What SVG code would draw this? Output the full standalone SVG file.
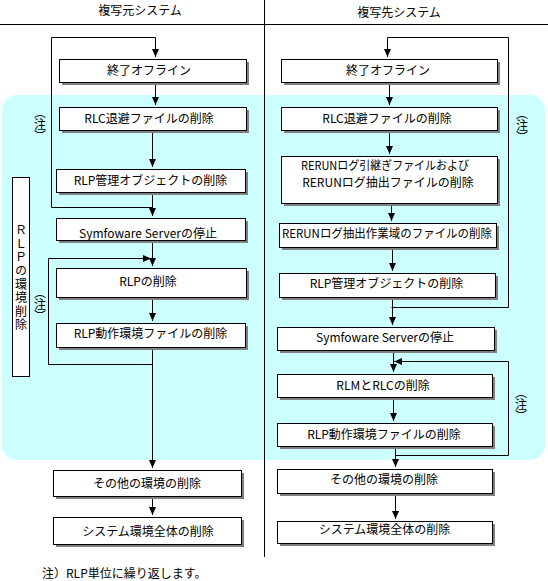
<svg xmlns="http://www.w3.org/2000/svg" width="548" height="581" viewBox="0 0 548 581">
<style>
.bg{fill:#ccffff;stroke:none}
.sh{fill:#808080;stroke:none}
.bx{fill:#ffffff;stroke:#000000;stroke-width:1}
.ln{fill:none;stroke:#000000;stroke-width:1}
.t{font-family:"Noto Sans CJK JP","Noto Sans",sans-serif;font-size:12px;fill:#000000;text-anchor:middle}
.tl{font-family:"Noto Sans CJK JP","Noto Sans",sans-serif;font-size:12px;fill:#000000}
.v{font-family:"Noto Sans CJK JP",sans-serif;font-size:12px;fill:#000000;text-anchor:middle;writing-mode:vertical-rl}
.a{marker-end:url(#ah)}
</style>
<defs>
<marker id="ah" markerUnits="userSpaceOnUse" markerWidth="8" markerHeight="8" viewBox="0 0 8 8" refX="8" refY="4" orient="auto">
<path d="M0,0.5 L8,4 L0,7.5 z" fill="#000000"/>
</marker>
</defs>
<rect width="548" height="581" fill="#ffffff"/>
<rect class="bg" x="2" y="95" width="543" height="365" rx="15" ry="15"/>
<g id="frame">
<line class="ln" x1="264.5" y1="0" x2="264.5" y2="557"/>
<line class="ln" x1="0" y1="24.5" x2="548" y2="24.5"/>
<text class="t" x="140" y="15">複写元システム</text>
<text class="t" x="399" y="17">複写先システム</text>
</g>
<g id="connectors">
<path class="ln a" d="M152.5,207.5 H51.5 V37.5 H155.5 V57"/>
<path class="ln a" d="M155.5,82 V105"/>
<path class="ln a" d="M152.5,130 V167"/>
<path class="ln a" d="M152.5,192 V216"/>
<path class="ln a" d="M152.5,240 V266"/>
<path class="ln a" d="M152.5,364.5 H48.5 V258.5 H151"/>
<path class="ln a" d="M152.5,297 V321"/>
<path class="ln a" d="M152.5,347 V468"/>
<path class="ln a" d="M152.5,496 V515"/>
<path class="ln a" d="M391.5,307.5 H508.5 V37.5 H387.5 V57"/>
<path class="ln a" d="M389.5,82 V105"/>
<path class="ln a" d="M389.5,130 V154"/>
<path class="ln a" d="M391.5,203 V221"/>
<path class="ln a" d="M392.5,247 V271"/>
<path class="ln a" d="M392.5,297 V325"/>
<path class="ln a" d="M393.5,350 V372"/>
<path class="ln a" d="M395.5,455.5 H508.5 V361.5 H394"/>
<path class="ln a" d="M393.5,397 V421"/>
<path class="ln a" d="M395.5,446 V467"/>
<path class="ln a" d="M395.5,493 V519"/>
</g>
<g id="L1"><rect class="sh" x="62" y="62" width="187" height="23"/><rect class="bx" x="59.5" y="59.5" width="187" height="23"/><text class="t" x="149" y="75">終了オフライン</text></g>
<g id="L2"><rect class="sh" x="62" y="110" width="187" height="23"/><rect class="bx" x="59.5" y="107.5" width="187" height="23"/><text class="t" x="149" y="123">RLC退避ファイルの削除</text></g>
<g id="L3"><rect class="sh" x="59" y="172" width="189" height="23"/><rect class="bx" x="56.5" y="169.5" width="189" height="23"/><text class="t" x="150.5" y="185">RLP管理オブジェクトの削除</text></g>
<g id="L4"><rect class="sh" x="59" y="221" width="189" height="22"/><rect class="bx" x="56.5" y="218.5" width="189" height="22"/><text class="t" x="148" y="238">Symfoware Serverの停止</text></g>
<g id="L5"><rect class="sh" x="59" y="271" width="190" height="29"/><rect class="bx" x="56.5" y="268.5" width="190" height="29"/><text class="t" x="148" y="286">RLPの削除</text></g>
<g id="L6"><rect class="sh" x="59" y="326" width="189" height="24"/><rect class="bx" x="56.5" y="323.5" width="189" height="24"/><text class="t" x="150.5" y="338">RLP動作環境ファイルの削除</text></g>
<g id="L7"><rect class="sh" x="56" y="473" width="188" height="26"/><rect class="bx" x="53.5" y="470.5" width="188" height="26"/><text class="t" x="147" y="488">その他の環境の削除</text></g>
<g id="L8"><rect class="sh" x="56" y="520" width="188" height="27"/><rect class="bx" x="53.5" y="517.5" width="188" height="27"/><text class="t" x="148" y="536">システム環境全体の削除</text></g>
<g id="R1"><rect class="sh" x="284" y="62" width="216" height="23"/><rect class="bx" x="281.5" y="59.5" width="216" height="23"/><text class="t" x="388" y="75">終了オフライン</text></g>
<g id="R2"><rect class="sh" x="284" y="110" width="216" height="23"/><rect class="bx" x="281.5" y="107.5" width="216" height="23"/><text class="t" x="387" y="123">RLC退避ファイルの削除</text></g>
<g id="R3"><rect class="sh" x="284" y="159" width="216" height="47"/><rect class="bx" x="281.5" y="156.5" width="216" height="47"/><text class="t"><tspan x="385" y="170" textLength="168" lengthAdjust="spacingAndGlyphs">RERUNログ引継ぎファイルおよび</tspan><tspan x="388" y="187">RERUNログ抽出ファイルの削除</tspan></text></g>
<g id="R4"><rect class="sh" x="282" y="226" width="217" height="24"/><rect class="bx" x="279.5" y="223.5" width="217" height="24"/><text class="t" x="387" y="238" textLength="210" lengthAdjust="spacingAndGlyphs">RERUNログ抽出作業域のファイルの削除</text></g>
<g id="R5"><rect class="sh" x="282" y="276" width="216" height="24"/><rect class="bx" x="279.5" y="273.5" width="216" height="24"/><text class="t" x="386.5" y="288">RLP管理オブジェクトの削除</text></g>
<g id="R6"><rect class="sh" x="280" y="330" width="217" height="23"/><rect class="bx" x="277.5" y="327.5" width="217" height="23"/><text class="t" x="385" y="342">Symfoware Serverの停止</text></g>
<g id="R7"><rect class="sh" x="280" y="377" width="215" height="23"/><rect class="bx" x="277.5" y="374.5" width="215" height="23"/><text class="t" x="383" y="390">RLMとRLCの削除</text></g>
<g id="R8"><rect class="sh" x="280" y="426" width="215" height="23"/><rect class="bx" x="277.5" y="423.5" width="215" height="23"/><text class="t" x="384" y="439">RLP動作環境ファイルの削除</text></g>
<g id="R9"><rect class="sh" x="280" y="472" width="215" height="24"/><rect class="bx" x="277.5" y="469.5" width="215" height="24"/><text class="t" x="384" y="484">その他の環境の削除</text></g>
<g id="R10"><rect class="sh" x="280" y="524" width="215" height="22"/><rect class="bx" x="277.5" y="521.5" width="215" height="22"/><text class="t" x="384.5" y="534">システム環境全体の削除</text></g>
<g id="side"><rect class="bx" x="12.5" y="177.5" width="17" height="199"/><text class="v" x="21" y="278" letter-spacing="1.6">ＲＬＰの環境削除</text></g>
<g id="note1"><text class="v" x="40" y="124">（注）</text></g>
<g id="note2"><text class="v" x="40" y="304">（注）</text></g>
<g id="note3"><text class="v" x="522" y="125">（注）</text></g>
<g id="note4"><text class="v" x="521" y="404">（注）</text></g>
<text class="tl" x="42" y="578">注）RLP単位に繰り返します。</text>
</svg>
